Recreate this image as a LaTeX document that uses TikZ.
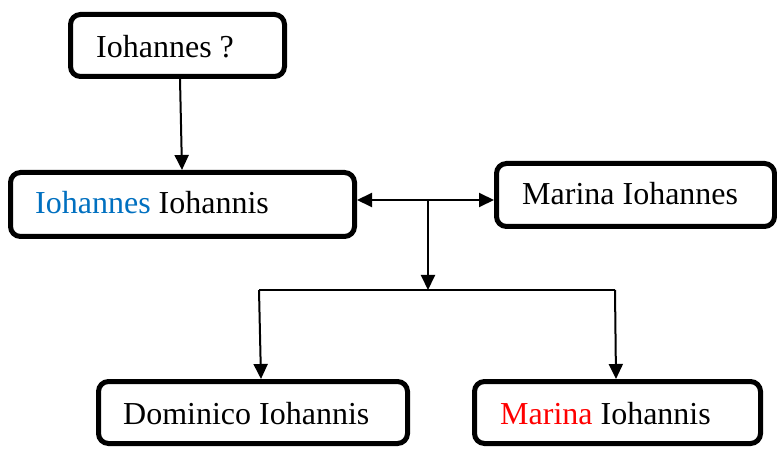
\documentclass[tikz,border=0pt]{standalone}
\usepackage{fontspec}
\setmainfont{Liberation Serif}
\usetikzlibrary{arrows.meta}
\definecolor{nameblue}{HTML}{0070C0}
\definecolor{namered}{HTML}{FF0000}
\tikzset{
  box/.style={draw=black, line width=5pt, rounded corners=10pt, fill=white},
  lbl/.style={anchor=base west, inner sep=0pt, font=\fontsize{32}{38}\selectfont},
  tip/.style={},
  conn/.style={line width=2pt, -{Triangle[length=15pt,width=14pt]}},
  dconn/.style={line width=2pt, {Triangle[length=15pt,width=14pt]}-{Triangle[length=15pt,width=14pt]}},
  line/.style={line width=2pt}
}
\begin{document}
\begin{tikzpicture}[x=1pt,y=-1pt]
\useasboundingbox (0,0) rectangle (777,449);
% boxes
\draw[box] (70.5,14.5) rectangle (284.5,76.5);
\draw[box] (10.5,172.5) rectangle (354.5,236.5);
\draw[box] (496.5,163.5) rectangle (774.5,226.5);
\draw[box] (98.5,381.5) rectangle (407.5,443.5);
\draw[box] (474.5,381.5) rectangle (760.5,443.5);
% anchor coordinates
\coordinate (b1s) at (180,79);
\coordinate (b2n) at (182,170);
\coordinate (b2e) at (357,200);
\coordinate (b3w) at (494,200);
\coordinate (j) at (428,200);
\coordinate (j2) at (428,290);
\coordinate (hl) at (259,290);
\coordinate (hr) at (615,290);
\coordinate (b4n) at (261,379);
\coordinate (b5n) at (616,379);
% labels
\node[lbl] (t1) at (96,58) {Iohannes ?};
\node[lbl] (t2) at (35,214) {\textcolor{nameblue}{Iohannes} Iohannis};
\node[lbl] (t3) at (522,205) {Marina Iohannes};
\node[lbl] (t4) at (123,424) {Dominico Iohannis};
\node[lbl] (t5) at (500,424) {\textcolor{namered}{Marina} Iohannis};
% connectors
\draw[conn] (b1s) -- (b2n);
\draw[dconn] (b2e) -- (b3w);
\draw[conn] (j) -- (j2);
\draw[line] (hl) -- (hr);
\draw[conn] (hl) -- (b4n);
\draw[conn] (hr) -- (b5n);
\end{tikzpicture}
\end{document}
